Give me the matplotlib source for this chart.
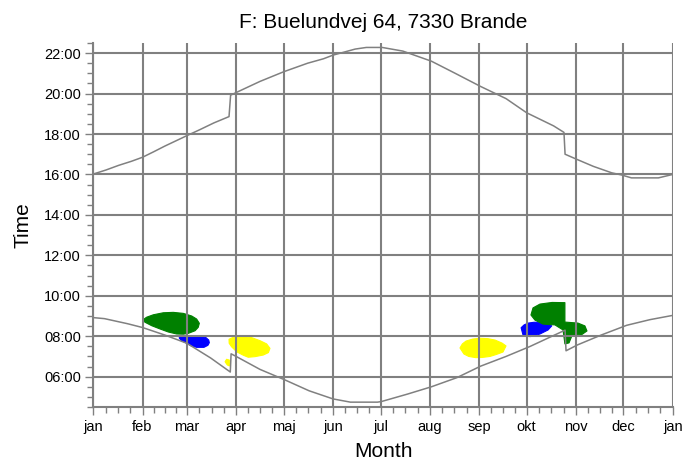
import matplotlib
matplotlib.use("Agg")
import matplotlib.pyplot as plt
from matplotlib.patches import Polygon
from matplotlib.ticker import FixedLocator, NullFormatter

plt.rcParams['font.family'] = ['Liberation Sans', 'DejaVu Sans']

# Calendar axis: day of year at each month start, with labels
month_start = [0, 31, 59, 90, 120, 151, 181, 212, 243, 273, 304, 334, 365]
month_label = ['jan', 'feb', 'mar', 'apr', 'maj', 'jun', 'jul', 'aug',
               'sep', 'okt', 'nov', 'dec', 'jan']

# Time axis (hours)
hour_ticks = [6, 8, 10, 12, 14, 16, 18, 20, 22]
hour_labels = ['06:00', '08:00', '10:00', '12:00', '14:00', '16:00',
               '18:00', '20:00', '22:00']

# Sunrise (local time, with summer-time jumps)
sunrise_day = [0, 7, 21.5, 31, 45, 59, 74, 86.3, 86.8, 90, 105, 120.7,
               136, 151, 162, 179, 181.5, 198, 213, 229, 244, 260, 275,
               297.2, 297.8, 305, 320, 336, 350.7, 365]
sunrise_hour = [8.92, 8.87, 8.62, 8.43, 8.06, 7.65, 6.92, 6.23, 7.13, 7.0,
                6.36, 5.84, 5.30, 4.90, 4.74, 4.74, 4.77, 5.14, 5.50, 5.95,
                6.52, 7.00, 7.49, 8.30, 7.28, 7.57, 8.06, 8.54, 8.82, 9.03]

# Sunset (local time, with summer-time jumps)
sunset_day = [0, 8, 16, 24, 31, 38, 45, 52, 59, 67, 76, 85.5, 86.5, 90,
              105, 120, 135, 145, 151, 165, 172, 182, 195, 213, 228, 244,
              260, 273, 290, 296.5, 297.2, 304.5, 315, 326.6, 333, 339, 356,
              365]
sunset_hour = [16.02, 16.22, 16.45, 16.65, 16.85, 17.12, 17.40, 17.66,
               17.92, 18.21, 18.55, 18.86, 19.92, 20.05, 20.60, 21.08, 21.50,
               21.72, 21.90, 22.20, 22.28, 22.28, 22.10, 21.60, 21.00, 20.35,
               19.75, 19.05, 18.40, 18.08, 17.00, 16.75, 16.40, 16.08, 15.97,
               15.83, 15.83, 16.0]

# Shadow periods, as (day, hour) outlines
green_spring_day = [31.1, 33.6, 37.8, 44.1, 50.4, 56.7, 62.0, 65.1, 66.8,
                    66.1, 64.1, 59.8, 56.7, 52.5, 47.2, 42.0, 36.8, 32.6]
green_spring_hour = [8.80, 8.94, 9.06, 9.16, 9.18, 9.13, 9.00, 8.85, 8.64,
                     8.44, 8.27, 8.14, 8.10, 8.11, 8.21, 8.36, 8.52, 8.69]

blue_spring_day = [54.2, 68.3, 71.0, 72.7, 73.1, 72.2, 69.7, 65.1, 61.9,
                   58.8, 55.7, 54.2]
blue_spring_hour = [8.01, 8.01, 7.93, 7.81, 7.68, 7.55, 7.45, 7.45, 7.51,
                    7.65, 7.78, 7.90]

yellow_spring_day = [85.5, 88.2, 94.5, 99.8, 105.0, 109.2, 111.3, 110.3,
                     107.1, 101.9, 97.6, 94.5, 90.3, 87.1, 85.6]
yellow_spring_hour = [7.85, 7.95, 7.98, 7.93, 7.78, 7.62, 7.40, 7.19, 7.07,
                      6.99, 6.96, 7.06, 7.23, 7.48, 7.65]

yellow_bit_day = [84.0, 85.7, 85.7, 84.4, 83.0]
yellow_bit_hour = [6.86, 6.82, 6.53, 6.58, 6.74]

yellow_autumn_day = [231.0, 232.5, 234.8, 239.0, 243.6, 248.5, 253.1, 257.5,
                     260.0, 258.1, 254.0, 249.9, 245.0, 241.0, 236.5, 233.5]
yellow_autumn_hour = [7.42, 7.62, 7.76, 7.86, 7.90, 7.88, 7.81, 7.66, 7.52,
                      7.22, 7.10, 7.00, 6.95, 6.94, 7.00, 7.12]

blue_autumn_day = [269.5, 271.4, 274.0, 277.6, 281.5, 285.2, 288.8, 286.5,
                   281.4, 278.0, 275.1, 270.7]
blue_autumn_hour = [8.42, 8.56, 8.65, 8.69, 8.69, 8.65, 8.51, 8.31, 8.11,
                    8.03, 7.98, 8.06]

green_autumn_day = [297.1, 297.1, 305.3, 309.7, 311.0, 307.9, 301.6, 299.7,
                    297.1, 295.9, 290.8, 283.3, 278.2, 275.7, 277.0, 281.4,
                    289.0]
green_autumn_hour = [9.66, 8.70, 8.65, 8.51, 8.26, 8.09, 8.04, 7.67, 7.62,
                     8.31, 8.56, 8.60, 8.80, 9.05, 9.40, 9.59, 9.67]

GRID = '#808080'

fig = plt.figure(figsize=(6.98, 4.61), dpi=100)
ax = fig.add_axes([93.3 / 698, 54 / 461, 579.4 / 698, 364 / 461])
ax.set_xlim(month_start[0], month_start[-1])
ax.set_ylim(4.5, 22.5)

shapes = [
    (green_spring_day, green_spring_hour, '#008000'),
    (blue_spring_day, blue_spring_hour, '#0000ff'),
    (yellow_spring_day, yellow_spring_hour, '#ffff00'),
    (yellow_bit_day, yellow_bit_hour, '#ffff00'),
    (yellow_autumn_day, yellow_autumn_hour, '#ffff00'),
    (blue_autumn_day, blue_autumn_hour, '#0000ff'),
    (green_autumn_day, green_autumn_hour, '#008000'),
]
for d, h, c in shapes:
    ax.add_patch(Polygon(list(zip(d, h)), closed=True, facecolor=c,
                         edgecolor=c, lw=0.8, joinstyle='round', zorder=1))

ax.plot(sunrise_day, sunrise_hour, color=GRID, lw=1.1, zorder=3)
ax.plot(sunset_day, sunset_hour, color=GRID, lw=1.1, zorder=3)

# Ticks
ax.set_xticks(month_start)
ax.set_xticklabels(month_label)
minor_x = []
for a, b in zip(month_start[:-1], month_start[1:]):
    minor_x += [a + (b - a) * k / 4 for k in (1, 2, 3)]
ax.xaxis.set_minor_locator(FixedLocator(minor_x))
ax.xaxis.set_minor_formatter(NullFormatter())

ax.set_yticks(hour_ticks)
ax.set_yticklabels(hour_labels)
ax.yaxis.set_minor_locator(FixedLocator([4.5 + 0.5 * i for i in range(37)]))
ax.yaxis.set_minor_formatter(NullFormatter())

ax.tick_params(which='major', length=6, width=1, color=GRID, labelsize=10.5,
               labelcolor='black', direction='out', pad=3)
ax.tick_params(which='minor', length=4, width=1, color=GRID, direction='out')

ax.grid(True, which='major', color=GRID, lw=1.5, zorder=2)
ax.set_axisbelow(False)

for s in ('top', 'right'):
    ax.spines[s].set_visible(False)
for s in ('left', 'bottom'):
    ax.spines[s].set_color(GRID)
    ax.spines[s].set_linewidth(1.5)

ax.set_xlabel('Month', fontsize=15, labelpad=6)
ax.set_ylabel('Time', fontsize=15, labelpad=8)
ax.set_title('F: Buelundvej 64, 7330 Brande', fontsize=15, pad=11)

fig.savefig('out.png', dpi=100)
